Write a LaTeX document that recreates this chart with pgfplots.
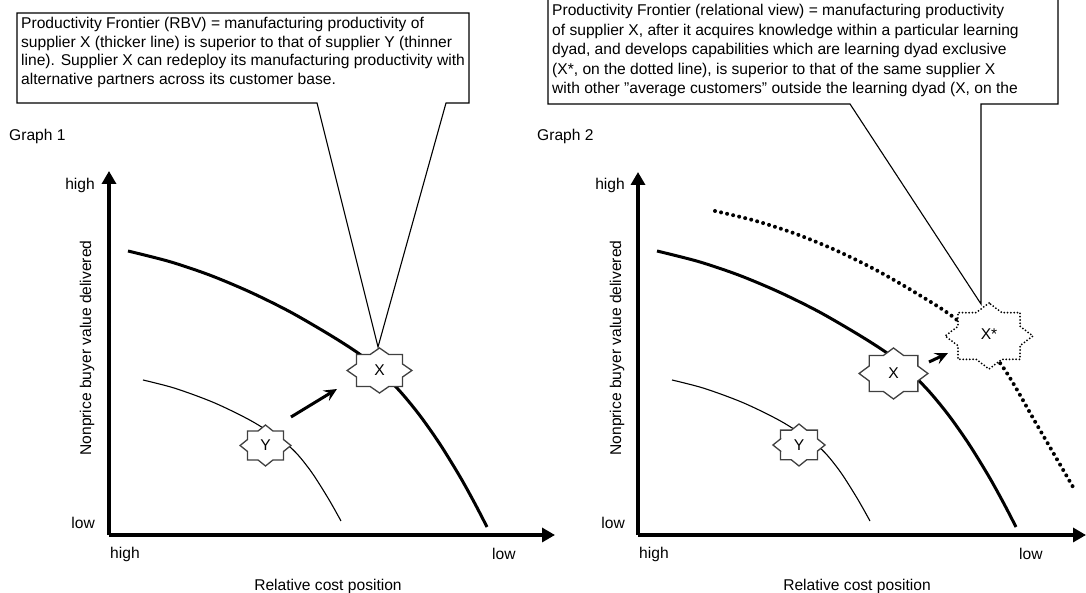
\documentclass[border=0pt]{standalone}
\usepackage{fontspec}
\setmainfont{Liberation Sans}
\usepackage{pgfplots}
\pgfplotsset{compat=1.18}
\usetikzlibrary{arrows.meta,shapes.geometric}

% one data unit = one pixel of the reference, y counted upwards
\pgfplotsset{
  panel/.style={
    x=1pt, y=1pt, anchor=south west,
    axis lines=left, ticks=none, enlargelimits=false, clip=false,
    axis line style={line width=4.5pt, -{Triangle[width=14pt,length=13pt]}},
  },
  thickcurve/.style={line width=3pt, smooth, tension=0.5, no marks, black},
  thincurve/.style={line width=1.1pt, smooth, tension=0.5, no marks, black},
  dotcurve/.style={line width=4pt, smooth, tension=0.5, no marks, black,
    line cap=round, dash pattern=on 0pt off 6.2pt},
}
\tikzset{
  every node/.style={font=\fontsize{15.6}{18.5}\selectfont},
  burst/.style={star, star points=8, star point ratio=1.307, inner sep=0pt,
    fill=white, draw=black!75, line width=1.3pt},
  push/.style={line width=3pt, -{Stealth[length=13pt,width=12pt,inset=5pt]}},
  callout/.style={fill=white, draw=black, line width=1.1pt},
  boxtext/.style={anchor=base west, inner sep=0pt},
}

\begin{document}
\begin{tikzpicture}

% ---------------- Graph 1 ----------------
\begin{axis}[panel, at={(109pt,58pt)}, xmin=109, xmax=555, ymin=58, ymax=422]
  % supplier X frontier
  \addplot[thickcurve] coordinates {
    (128,342) (170,331.3) (210,317.8) (250,301) (290,281.2) (330,258)
    (358,240) (378,224) (400,201.7) (420,177.3) (440,148.8) (460,116.3)
    (475,89.2) (487,66)
  };
  % supplier Y frontier
  \addplot[thincurve] coordinates {
    (143,213) (175,204.7) (215,189.9) (255,170) (290,146) (310,123)
    (328,95) (341,72)
  };

  \node[burst, minimum size=41pt, xscale=1.24] at (axis cs:265.5,147.5) {};
  \node at (axis cs:265.5,147.5) {Y};
  \node[burst, minimum size=45pt, xscale=1.44] at (axis cs:379.5,222.5) {};
  \node at (axis cs:379.5,222.5) {X};
  \draw[push] (axis cs:291,176) -- (axis cs:337,204);

  \draw[callout] (axis cs:17,580) -- (axis cs:469,580) -- (axis cs:469,490)
    -- (axis cs:446,490) -- (axis cs:378,246) -- (axis cs:317,490)
    -- (axis cs:17,490) -- cycle;
  \node[boxtext] at (axis cs:21,564)
    {Productivity Frontier (RBV) = manufacturing productivity of};
  \node[boxtext] at (axis cs:21,545.5)
    {supplier X (thicker line) is superior to that of supplier Y (thinner};
  \node[boxtext] at (axis cs:21,527)
    {line). Supplier X can redeploy its manufacturing productivity with};
  \node[boxtext] at (axis cs:21,508.5)
    {alternative partners across its customer base.};

  \node[anchor=west, inner sep=0pt] at (axis cs:9,457) {Graph 1};
  \node[anchor=east, inner sep=0pt] at (axis cs:95,408) {high};
  \node[anchor=east, inner sep=0pt] at (axis cs:95,70) {low};
  \node[anchor=west, inner sep=0pt] at (axis cs:110,39) {high};
  \node[anchor=west, inner sep=0pt] at (axis cs:492,39) {low};
  \node[inner sep=0pt] at (axis cs:328,7) {Relative cost position};
  \node[rotate=90, anchor=base, inner sep=0pt] at (axis cs:91,245)
    {Nonprice buyer value delivered};
\end{axis}

% ---------------- Graph 2 ----------------
\begin{axis}[panel, at={(638pt,58pt)}, xmin=638, xmax=1086, ymin=58, ymax=421]
  % X inside the learning dyad
  \addplot[dotcurve] coordinates {
    (715,382) (755,372.3) (795,359.4) (835,343.1) (875,323.5) (915,300.6)
    (957,273) (1000,230) (1037,168) (1073,106)
  };
  % supplier X frontier
  \addplot[thickcurve] coordinates {
    (657,342) (699,331.3) (739,317.8) (779,301) (819,281.2) (859,258)
    (887,240) (907,224) (929,201.7) (949,177.3) (969,148.8) (989,116.3)
    (1004,89.2) (1016,66)
  };
  % supplier Y frontier
  \addplot[thincurve] coordinates {
    (672,213) (704,204.7) (744,189.9) (784,170) (819,146) (839,123)
    (857,95) (870,72)
  };

  \node[burst, minimum size=42pt, xscale=1.24] at (axis cs:799,148) {};
  \node at (axis cs:799,148) {Y};
  \node[burst, minimum size=51pt, xscale=1.35] at (axis cs:893.5,219.5) {};
  \node at (axis cs:893.5,219.5) {X};
  \node[burst, minimum size=66pt, xscale=1.33, draw=black, line width=2pt,
    line cap=round, dash pattern=on 0pt off 3.3pt] at (axis cs:989,257) {};
  \node at (axis cs:989,259) {X*};
  \draw[push] (axis cs:929,231) -- (axis cs:948,240);

  \draw[callout] (axis cs:548,595) -- (axis cs:1058,595) -- (axis cs:1058,489)
    -- (axis cs:981,489) -- (axis cs:981,289) -- (axis cs:850,489)
    -- (axis cs:548,489) -- cycle;
  \node[boxtext] at (axis cs:552,577)
    {Productivity Frontier (relational view) = manufacturing productivity};
  \node[boxtext] at (axis cs:552,557.5)
    {of supplier X, after it acquires knowledge within a particular learning};
  \node[boxtext] at (axis cs:552,538)
    {dyad, and develops capabilities which are learning dyad exclusive};
  \node[boxtext] at (axis cs:552,518.5)
    {(X*, on the dotted line), is superior to that of the same supplier X};
  \node[boxtext] at (axis cs:552,499)
    {with other "average customers" outside the learning dyad (X, on the};

  \node[anchor=west, inner sep=0pt] at (axis cs:537,457) {Graph 2};
  \node[anchor=east, inner sep=0pt] at (axis cs:625,408) {high};
  \node[anchor=east, inner sep=0pt] at (axis cs:625,70) {low};
  \node[anchor=west, inner sep=0pt] at (axis cs:639,39) {high};
  \node[anchor=west, inner sep=0pt] at (axis cs:1019,39) {low};
  \node[inner sep=0pt] at (axis cs:857,7) {Relative cost position};
  \node[rotate=90, anchor=base, inner sep=0pt] at (axis cs:621,245)
    {Nonprice buyer value delivered};
\end{axis}

\pgfresetboundingbox
\path[use as bounding box] (0,0) rectangle (1086pt,593pt);
\end{tikzpicture}
\end{document}
